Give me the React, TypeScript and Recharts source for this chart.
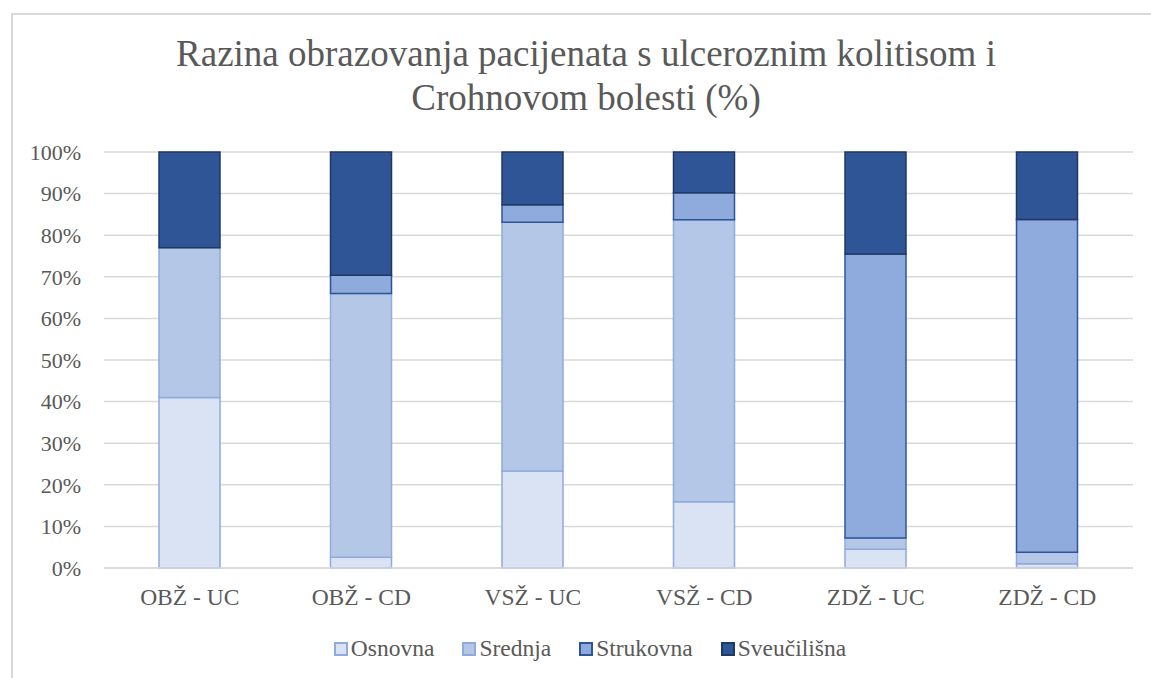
import React from 'react';
import { BarChart, Bar, XAxis, YAxis, CartesianGrid } from 'recharts';

const categories = ['OBŽ - UC', 'OBŽ - CD', 'VSŽ - UC', 'VSŽ - CD', 'ZDŽ - UC', 'ZDŽ - CD'];
const osnovna = [41, 2.6, 23.3, 15.9, 4.5, 1.0];
const srednja = [36, 63.4, 59.8, 67.8, 2.7, 2.8];
const strukovna = [0, 4.4, 4.2, 6.5, 68.3, 80.0];
const sveucilisna = [23, 29.6, 12.7, 9.8, 24.5, 16.2];
const yTicks = [0, 10, 20, 30, 40, 50, 60, 70, 80, 90, 100];

const seriesNames = ['Osnovna', 'Srednja', 'Strukovna', 'Sveučilišna'];
const fills = ['#dae3f3', '#b4c7e7', '#8faadc', '#2f5597'];
const strokes = ['#8faadc', '#8faadc', '#2f5597', '#1f3864'];
const keys = ['osnovna', 'srednja', 'strukovna', 'sveucilisna'];

const data = categories.map((c, i) => ({
  name: c,
  osnovna: osnovna[i],
  srednja: srednja[i],
  strukovna: strukovna[i],
  sveucilisna: sveucilisna[i],
}));

const FONT = '"Liberation Serif", "Times New Roman", serif';
const TXT = '#595959';

export default function App() {
  return (
    <div style={{ position: 'absolute', left: 0, top: 0, width: 1151, height: 678, overflow: 'hidden', background: '#fff', fontFamily: FONT }}>
      <div style={{ position: 'absolute', left: 11, top: 13, width: 1160, height: 700, border: '2px solid #d9d9d9', boxSizing: 'border-box' }} />
      <div style={{ position: 'absolute', left: 0, top: 32, width: 1172, textAlign: 'center', color: TXT, fontSize: 37, lineHeight: '44px' }}>
        Razina obrazovanja pacijenata s ulceroznim kolitisom i<br />Crohnovom bolesti (%)
      </div>
      <div style={{ position: 'absolute', left: 0, top: 0 }}>
        <BarChart width={1151} height={678} data={data} margin={{ top: 152, right: 18, bottom: 70, left: 44 }}>
          <CartesianGrid vertical={false} stroke="#d9d9d9" strokeWidth={1.5} />
          <XAxis
            dataKey="name"
            height={40}
            axisLine={{ stroke: '#d9d9d9', strokeWidth: 1.5 }}
            tickLine={false}
            tickSize={0}
            tickMargin={20}
            tick={{ fill: TXT, fontSize: 23.5, fontFamily: FONT }}
            interval={0}
          />
          <YAxis
            width={60}
            domain={[0, 100]}
            ticks={yTicks}
            interval={0}
            axisLine={false}
            tickLine={false}
            tickSize={0}
            tickMargin={23}
            tickFormatter={(v) => `${v}%`}
            tick={{ fill: TXT, fontSize: 22, fontFamily: FONT }}
          />
          {keys.map((k, i) => (
            <Bar
              key={k}
              dataKey={k}
              name={seriesNames[i]}
              stackId="a"
              fill={fills[i]}
              stroke={strokes[i]}
              strokeWidth={1.5}
              barSize={61}
              isAnimationActive={false}
            />
          ))}
        </BarChart>
      </div>
      <div style={{ position: 'absolute', left: 4, top: 635, width: 1172, display: 'flex', justifyContent: 'center', color: TXT, fontSize: 23.5, lineHeight: '27px' }}>
        {seriesNames.map((n, i) => (
          <div key={n} style={{ display: 'flex', alignItems: 'center', marginRight: i < 3 ? 28 : 0 }}>
            <span style={{ display: 'inline-block', width: 10, height: 10, background: fills[i], border: `2px solid ${strokes[i]}`, marginRight: 3 }} />
            <span>{n}</span>
          </div>
        ))}
      </div>
    </div>
  );
}
